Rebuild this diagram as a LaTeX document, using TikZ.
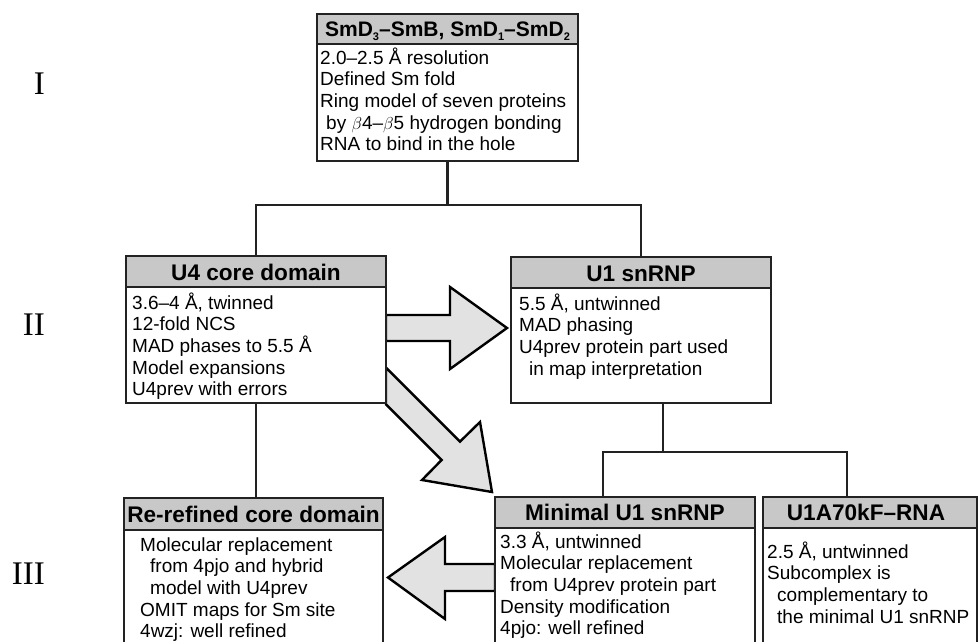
\documentclass[tikz,border=0pt]{standalone}
\usepackage{fontspec}
\setmainfont{Liberation Sans}
\newfontfamily\romanfont{Liberation Serif}
\definecolor{hdrgray}{HTML}{C8C8C8}
\definecolor{arrgray}{HTML}{E2E2E2}
\definecolor{lc}{HTML}{222222}
\newcommand\bodylines[1]{\vtop{\baselineskip=21.7pt\lineskiplimit=-30pt\lineskip=0pt #1}}
\newcommand\ind{\kern10pt}
\newcommand\sbs[1]{\raisebox{-4pt}{\fontsize{11}{11}\selectfont #1}}
\begin{document}
\begin{tikzpicture}[x=1pt,y=-1pt,
  boxnode/.style={draw=lc, line width=2.8pt, fill=white, rectangle, inner sep=0pt, outer sep=0pt, anchor=north west},
  hdrnode/.style={draw=lc, line width=2.8pt, fill=hdrgray, rectangle, inner sep=0pt, outer sep=0pt, anchor=north west},
  htext/.style={font=\fontsize{22.6}{22.6}\selectfont\bfseries, inner sep=0pt, anchor=base},
  btext/.style={font=\fontsize{19}{21.7}\selectfont, inner sep=0pt, anchor=base west},
  conn/.style={draw=lc, line width=2.8pt},
  blockarrow/.style={draw=black, fill=arrgray, line width=2.4pt, line join=miter},
  numeral/.style={font=\romanfont\fontsize{33}{33}\selectfont, inner sep=0pt, anchor=base east}]
\useasboundingbox (0,0) rectangle (978,641);
\clip (0,0) rectangle (978,641);

% block arrows (drawn first, boxes sit on top)
\draw[blockarrow] (386,315) -- (450,315) -- (450,287) -- (507,328) -- (450,369) -- (450,341) -- (386,341) -- cycle;
\draw[blockarrow] (495,564) -- (445,564) -- (445,537) -- (388,577.5) -- (445,619) -- (445,591) -- (495,591) -- cycle;
\draw[blockarrow] (386,367.6) -- (460,441.6) -- (480,422) -- (492,492) -- (422,480) -- (441.6,460) -- (386,404.4) -- cycle;

% boxes
\node[boxnode, minimum width=261pt, minimum height=147pt] (top) at (317,14) {};
\node[hdrnode, minimum width=261pt, minimum height=30pt] (toph) at (317,14) {};
\node[htext, font=\fontsize{21}{21}\selectfont\bfseries] (topt) at (447.5,36) {SmD\sbs{3}–SmB, SmD\sbs{1}–SmD\sbs{2}};
\node[btext] (topb) at (320,64) {\bodylines{%
  \hbox{2.0–2.5 Å resolution}
  \hbox{Defined Sm fold}
  \hbox{Ring model of seven proteins}
  \hbox{\kern6pt by $\beta$4–$\beta$5 hydrogen bonding}
  \hbox{RNA to bind in the hole}}};

\node[boxnode, minimum width=260pt, minimum height=147pt] (u4) at (126,256) {};
\node[hdrnode, minimum width=260pt, minimum height=31pt] (u4h) at (126,256) {};
\node[htext] (u4t) at (256,280) {U4 core domain};
\node[btext] (u4b) at (132,309) {\bodylines{%
  \hbox{3.6–4 Å, twinned}
  \hbox{12-fold NCS}
  \hbox{MAD phases to 5.5 Å}
  \hbox{Model expansions}
  \hbox{U4prev with errors}}};

\node[boxnode, minimum width=260pt, minimum height=146pt] (u1) at (511,257) {};
\node[hdrnode, minimum width=260pt, minimum height=31pt] (u1h) at (511,257) {};
\node[htext] (u1t) at (641,281) {U1 snRNP};
\node[btext] (u1b) at (519,310) {\bodylines{%
  \hbox{5.5 Å, untwinned}
  \hbox{MAD phasing}
  \hbox{U4prev protein part used}
  \hbox{\ind in map interpretation}}};

\node[boxnode, minimum width=259pt, minimum height=200pt] (re) at (124,498) {};
\node[hdrnode, minimum width=259pt, minimum height=32pt] (reh) at (124,498) {};
\node[htext] (ret) at (253.5,522) {Re-refined core domain};
\node[btext] (reb) at (140,551) {\bodylines{%
  \hbox{Molecular replacement}
  \hbox{\ind from 4pjo and hybrid}
  \hbox{\ind model with U4prev}
  \hbox{OMIT maps for Sm site}
  \hbox{4wzj: well refined}}};

\node[boxnode, minimum width=260pt, minimum height=200pt] (mn) at (495,497) {};
\node[hdrnode, minimum width=260pt, minimum height=31pt] (mnh) at (495,497) {};
\node[htext] (mnt) at (625,520) {Minimal U1 snRNP};
\node[btext] (mnb) at (500,548) {\bodylines{%
  \hbox{3.3 Å, untwinned}
  \hbox{Molecular replacement}
  \hbox{\ind from U4prev protein part}
  \hbox{Density modification}
  \hbox{4pjo: well refined}}};

\node[boxnode, minimum width=214pt, minimum height=200pt] (ua) at (763,497) {};
\node[hdrnode, minimum width=214pt, minimum height=31pt] (uah) at (763,497) {};
\node[htext] (uat) at (866,520) {U1A70kF–RNA};
\node[btext] (uab) at (767,558) {\bodylines{%
  \hbox{2.5 Å, untwinned}
  \hbox{Subcomplex is}
  \hbox{\ind complementary to}
  \hbox{\ind the minimal U1 snRNP}}};

% connectors
\coordinate (j1) at (447.5,205);
\draw[conn] (top.south) -- (j1);
\draw[conn] (u4.north) |- (j1) -| (u1.north);
\draw[conn] (u4.south) -- (u4.south |- re.north);
\coordinate (u1o) at ([xshift=22pt]u1.south);
\coordinate (j2) at (663,452);
\coordinate (mnin) at ([xshift=-22pt]mn.north);
\coordinate (uain) at ([xshift=-23pt]ua.north);
\draw[conn] (u1o) -- (j2);
\draw[conn] (mnin) |- (j2) -| (uain);

% level numerals
\node[numeral] (n1) at (45,94) {I};
\node[numeral] (n2) at (45,335) {II};
\node[numeral] (n3) at (45,584) {III};
\end{tikzpicture}
\end{document}
